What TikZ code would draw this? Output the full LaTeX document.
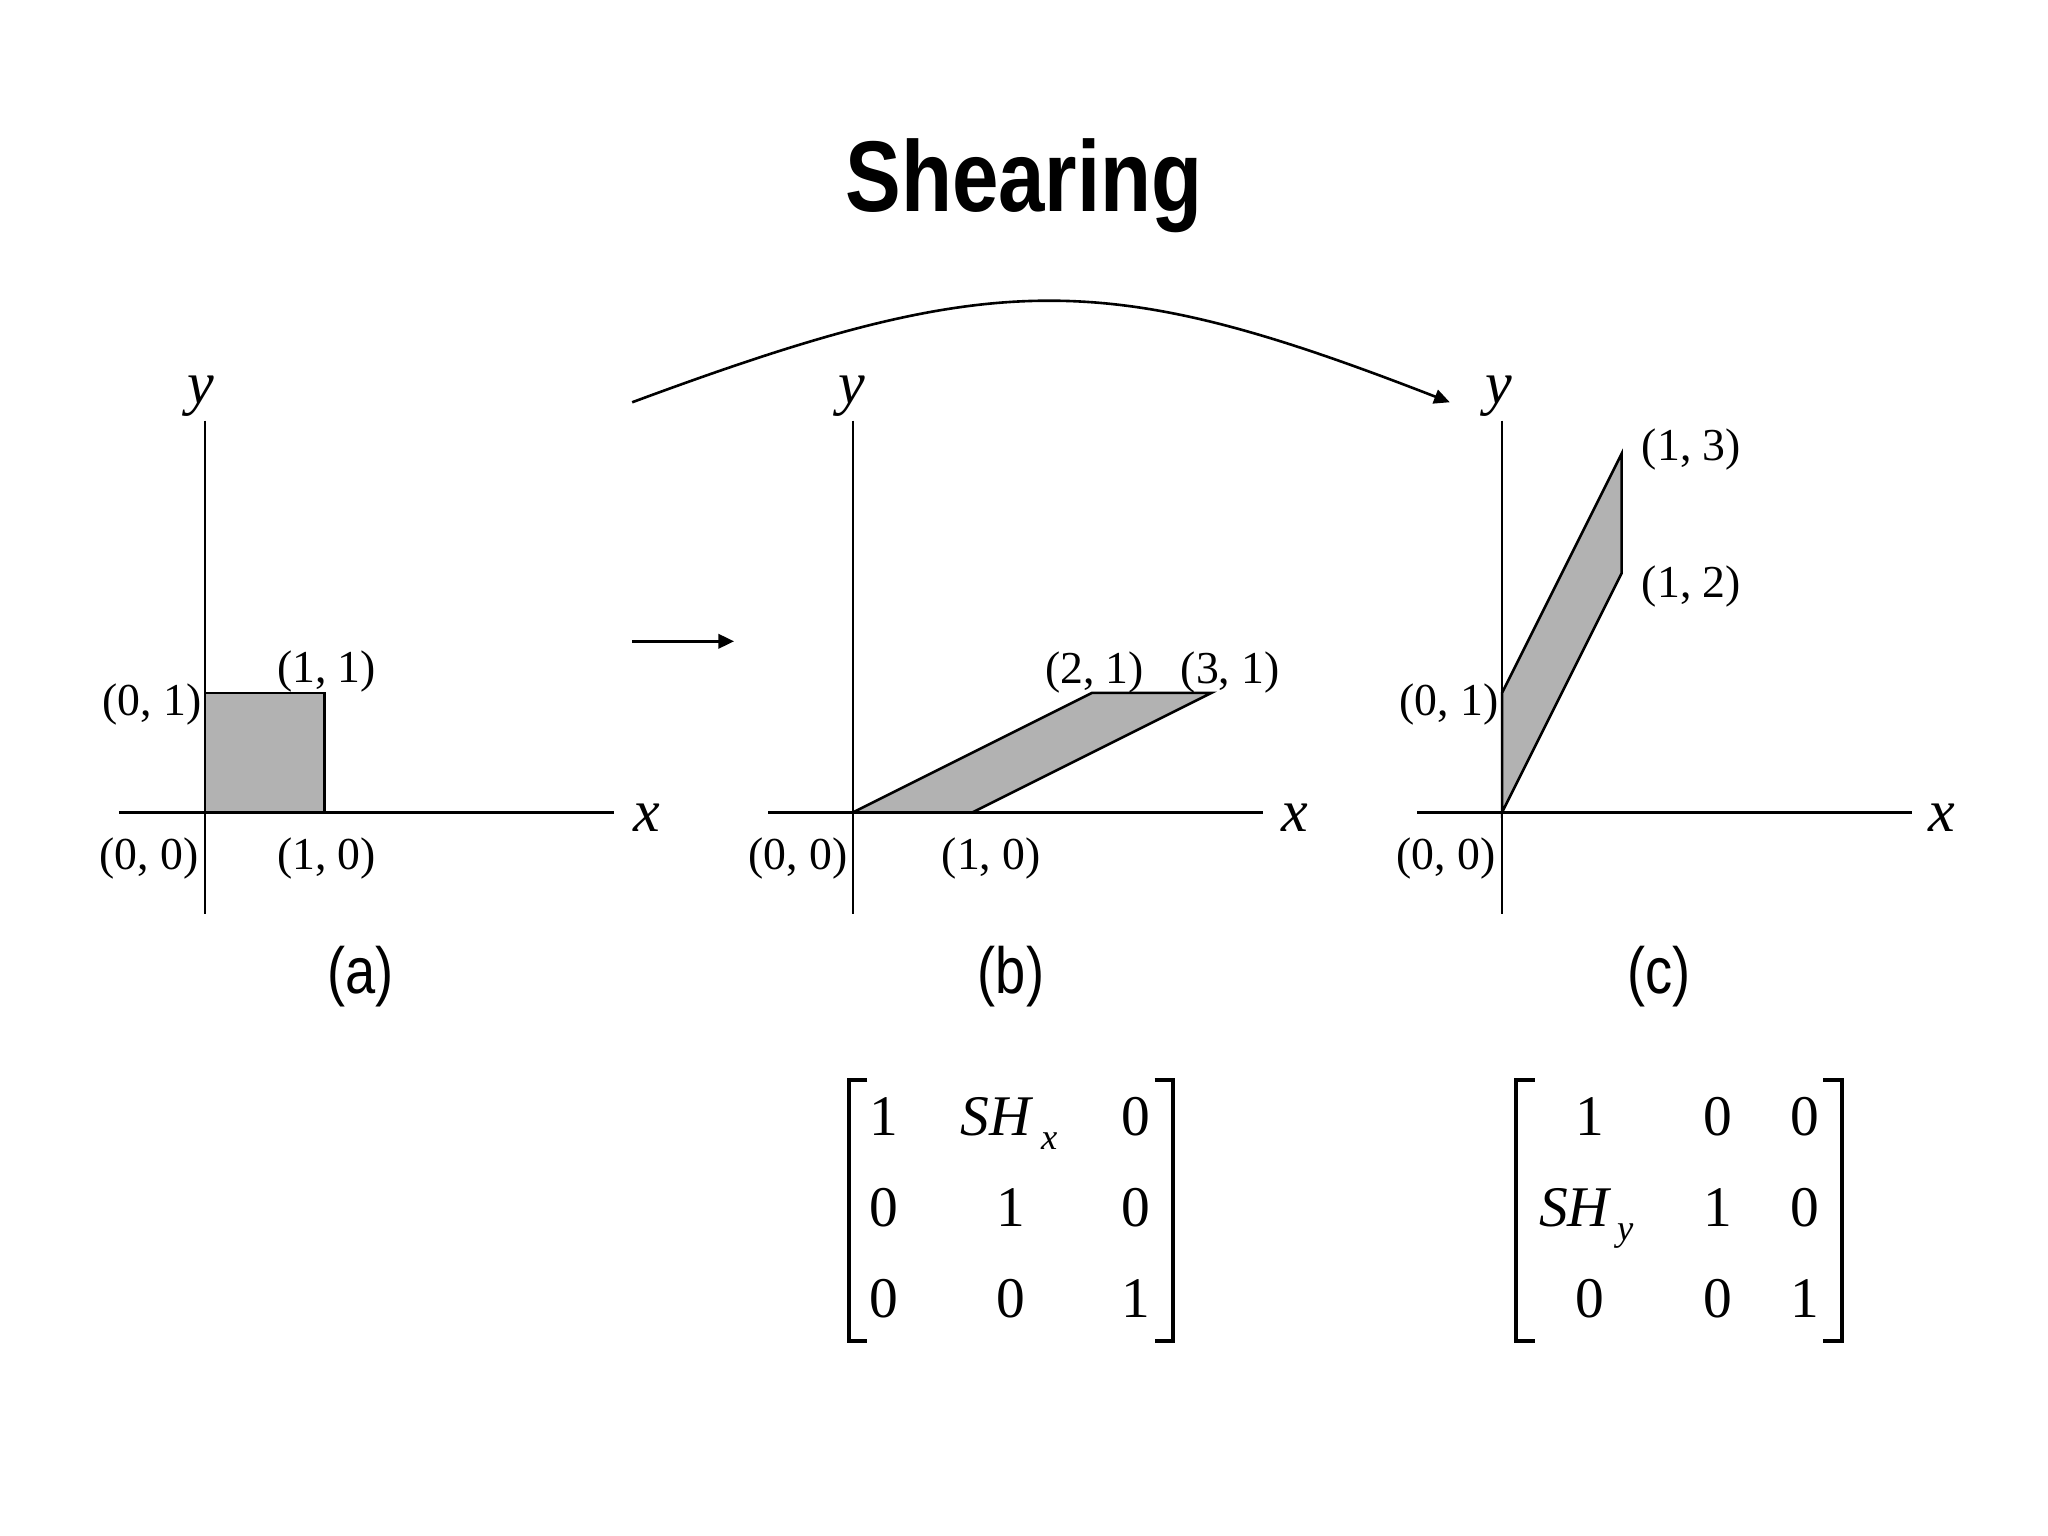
\documentclass[tikz,border=0pt]{standalone}
\usepackage{fontspec}
\setmainfont{Liberation Serif}
\newfontfamily\narrowsf[FakeStretch=0.83]{Liberation Sans}
\usetikzlibrary{arrows.meta}
\definecolor{shadegray}{RGB}{178,178,178}

\begin{document}
\begin{tikzpicture}[x=0.5pt,y=0.5pt,yscale=-1,xscale=1,
	axis/.style={line width=1pt},
	shadedshape/.style={draw,line width=1pt,fill=shadegray},
	coordlbl/.style={inner sep=0pt,font=\fontsize{17.5}{18}\selectfont},
	axislbl/.style={inner sep=0pt,font=\fontsize{23}{24}\selectfont\itshape},
	panellbl/.style={inner sep=0pt,anchor=base,font=\narrowsf\fontsize{25}{26}\selectfont},
	entry/.style={inner sep=0pt,anchor=base,font=\fontsize{22}{24}\selectfont},
	bracket/.style={line width=1.5pt},
	maparrow/.style={line width=1pt,-{Triangle[length=6pt,width=5.5pt]}}]
				\useasboundingbox (0,0) rectangle (1568,1176);

				% Title
				\node[anchor=base,inner sep=0pt,font=\narrowsf\bfseries\fontsize{38.5}{40}\selectfont] (title) at (784,162) {Shearing};

				%Straight Lines: axes (a)
				\coordinate (ayTop) at (157,322);
				\coordinate (ayBot) at (157,700);
				\coordinate (axLeft) at (91,622);
				\coordinate (axRight) at (470,622);
				\draw[axis] (ayTop) -- (ayBot);
				\draw[axis] (axLeft) -- (axRight);
				%Shape: unit square
				\coordinate (aP00) at (157,622);
				\coordinate (aP10) at (248.5,622);
				\coordinate (aP11) at (248.5,530.5);
				\coordinate (aP01) at (157,530.5);
				\draw[shadedshape] (aP00) -- (aP10) -- (aP11) -- (aP01) -- cycle;

				%Straight Lines: axes (b)
				\coordinate (byTop) at (653,322);
				\coordinate (byBot) at (653,700);
				\coordinate (bxLeft) at (588,622);
				\coordinate (bxRight) at (967,622);
				\draw[axis] (byTop) -- (byBot);
				\draw[axis] (bxLeft) -- (bxRight);
				%Shape: sheared in x
				\coordinate (bP00) at (653,622);
				\coordinate (bP10) at (744.5,622);
				\coordinate (bP31) at (927.5,530.5);
				\coordinate (bP21) at (836,530.5);
				\draw[shadedshape] (bP00) -- (bP10) -- (bP31) -- (bP21) -- cycle;

				%Straight Lines: axes (c)
				\coordinate (cyTop) at (1150,322);
				\coordinate (cyBot) at (1150,700);
				\coordinate (cxLeft) at (1085,622);
				\coordinate (cxRight) at (1464,622);
				\draw[axis] (cyTop) -- (cyBot);
				\draw[axis] (cxLeft) -- (cxRight);
				%Shape: sheared in y
				\coordinate (cP00) at (1150,622);
				\coordinate (cP12) at (1241.5,439);
				\coordinate (cP13) at (1241.5,347.5);
				\coordinate (cP01) at (1150,530.5);
				\draw[shadedshape] (cP00) -- (cP12) -- (cP13) -- (cP01) -- cycle;

				%Arrows
				\coordinate (stepStart) at (484,491);
				\coordinate (stepEnd) at (562,491);
				\draw[maparrow] (stepStart) -- (stepEnd);
				\coordinate (curveStart) at (484,308);
				\coordinate (curveEnd) at (1110,308);
				\draw[maparrow] (curveStart) .. controls (762,205) and (845,205) .. (curveEnd);

				% Text Node (a)
				\node[axislbl] (ya) at (154,303) {y};
				\node[axislbl] (xa) at (495,626) {x};
				\node[coordlbl,anchor=east] (a01) at (154.5,539.5) {(0, 1)};
				\node[coordlbl] (a11) at (250,514) {(1, 1)};
				\node[coordlbl] (a00) at (114,657) {(0, 0)};
				\node[coordlbl] (a10) at (250,657) {(1, 0)};
				\node[panellbl] (capa) at (276,761) {(a)};
				% Text Node (b)
				\node[axislbl] (yb) at (652,303) {y};
				\node[axislbl] (xb) at (991,626) {x};
				\node[coordlbl] (b21) at (838,515) {(2, 1)};
				\node[coordlbl] (b31) at (942,515) {(3, 1)};
				\node[coordlbl] (b00) at (611,657) {(0, 0)};
				\node[coordlbl] (b10) at (759,657) {(1, 0)};
				\node[panellbl] (capb) at (774,761) {(b)};
				% Text Node (c)
				\node[axislbl] (yc) at (1147.5,303) {y};
				\node[axislbl] (xc) at (1487,626) {x};
				\node[coordlbl] (c13) at (1295,344) {(1, 3)};
				\node[coordlbl] (c12) at (1295,449) {(1, 2)};
				\node[coordlbl,anchor=east] (c01) at (1147.5,539.5) {(0, 1)};
				\node[coordlbl] (c00) at (1107,657) {(0, 0)};
				\node[panellbl] (capc) at (1270,761) {(c)};

				%Matrix SHx
				\draw[bracket] (664,827) -- (650,827) -- (650,1027) -- (664,1027);
				\draw[bracket] (884,827) -- (898,827) -- (898,1027) -- (884,1027);
				\node[entry] (mxA) at (677,869) {1};
				\node[entry,anchor=base west] (mxB) at (735,869) {\itshape SH\kern4pt\raisebox{-5.5pt}{\fontsize{14}{14}\selectfont x}};
				\node[entry] (mxC) at (870,869) {0};
				\node[entry] (mxD) at (677,939) {0};
				\node[entry] (mxE) at (774,939) {1};
				\node[entry] (mxF) at (870,939) {0};
				\node[entry] (mxG) at (677,1009) {0};
				\node[entry] (mxH) at (774,1009) {0};
				\node[entry] (mxI) at (870,1009) {1};

				%Matrix SHy
				\draw[bracket] (1175,827) -- (1161,827) -- (1161,1027) -- (1175,1027);
				\draw[bracket] (1396,827) -- (1410,827) -- (1410,1027) -- (1396,1027);
				\node[entry] (myA) at (1217,869) {1};
				\node[entry] (myB) at (1315,869) {0};
				\node[entry] (myC) at (1382,869) {0};
				\node[entry,anchor=base west] (myD) at (1178,939) {\itshape SH\kern3pt\raisebox{-5.5pt}{\fontsize{14}{14}\selectfont y}};
				\node[entry] (myE) at (1315,939) {1};
				\node[entry] (myF) at (1382,939) {0};
				\node[entry] (myG) at (1217,1009) {0};
				\node[entry] (myH) at (1315,1009) {0};
				\node[entry] (myI) at (1382,1009) {1};

\end{tikzpicture}
\end{document}
